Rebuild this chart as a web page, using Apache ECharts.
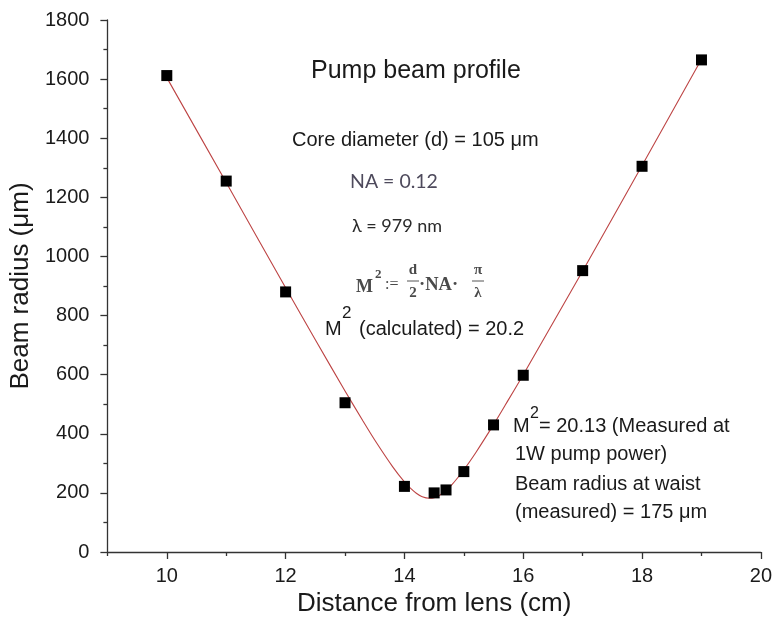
<!DOCTYPE html>
<html>
<head>
<meta charset="utf-8">
<script src="https://cdn.jsdelivr.net/npm/echarts@6/dist/echarts.min.js"></script>
<style>html,body{margin:0;padding:0;background:#fff;}#c{width:775px;height:622px;}</style>
</head>
<body>
<div id="c"></div>
<script>
// measured data points
const distance = [10, 11, 12, 13, 14, 14.5, 14.7, 15, 15.5, 16, 17, 18, 19];
const radius = [1612, 1255, 880, 505, 222, 200, 210, 272, 430, 598, 952, 1305, 1665];
// fitted curve
const fitDistance = [10, 11, 12, 12.5, 13, 13.3, 13.5, 13.8, 14, 14.1, 14.2, 14.3, 14.42, 14.5, 14.6, 14.7, 14.8, 14.9, 15, 15.2, 15.5, 15.7, 16, 17, 18, 19];
const fitRadius = [1605, 1250, 894, 718, 545, 444, 379, 289, 237, 216, 199, 187, 182, 184, 193, 208, 228, 252, 278, 336, 431, 498, 600, 951, 1308, 1667];
// tick labels
const xMajorTicks = [10, 12, 14, 16, 18, 20];
const xMinorTicks = [9, 11, 13, 15, 17, 19];

const FONT = '"Liberation Sans", Arial, sans-serif';
const SERIF = '"Liberation Serif", "DejaVu Serif", serif';
const CAL = 'Lato, "Open Sans", sans-serif';
const axisColor = '#333';

const chart = echarts.init(document.getElementById('c'), null, {renderer: 'canvas'});
const fitData = fitDistance.map((x, i) => [x, fitRadius[i]]);
const ptData = distance.map((x, i) => [x, radius[i]]);

function txt(x, y, text, size, opts) {
  opts = opts || {};
  return {
    type: 'text', z: 100,
    style: {
      x: x, y: y, text: text,
      font: (opts.weight || 'normal') + ' ' + size + 'px ' + (opts.family || FONT),
      fill: opts.fill || '#1a1a1a',
      align: opts.align || 'left',
      verticalAlign: 'middle'
    }
  };
}
function hline(x1, x2, y) {
  return {type: 'line', z: 100, shape: {x1: x1, y1: y, x2: x2, y2: y}, style: {stroke: '#555', lineWidth: 1}};
}
const FC = '#4a4a4a';

const option = {
  animation: false,
  backgroundColor: '#fff',
  grid: {left: 105, right: 13, top: 20, bottom: 70, containLabel: false},
  xAxis: [
    {
      type: 'value', min: 9, max: 20, interval: 1, position: 'bottom',
      name: 'Distance from lens (cm)', nameLocation: 'middle', nameGap: 37,
      nameTextStyle: {fontFamily: FONT, fontSize: 26, color: '#1a1a1a'},
      axisLine: {show: true, lineStyle: {color: axisColor, width: 1.3}},
      axisTick: {show: true, length: 7, customValues: xMajorTicks, lineStyle: {color: axisColor, width: 1.3}},
      axisLabel: {show: true, customValues: xMajorTicks, margin: 14, fontFamily: FONT, fontSize: 20, color: '#1a1a1a'},
      splitLine: {show: false}
    },
    {
      type: 'value', min: 9, max: 20, interval: 1, position: 'bottom',
      axisLine: {show: false},
      axisTick: {show: true, length: 4, customValues: xMinorTicks, lineStyle: {color: axisColor, width: 1.3}},
      axisLabel: {show: false},
      splitLine: {show: false}
    }
  ],
  yAxis: {
    type: 'value', min: 0, max: 1800, interval: 200,
    name: 'Beam radius (\u03bcm)', nameLocation: 'middle', nameGap: 65,
    nameTextStyle: {fontFamily: FONT, fontSize: 26, color: '#1a1a1a'},
    axisLine: {show: true, lineStyle: {color: axisColor, width: 1.3}},
    axisTick: {show: true, length: 7, lineStyle: {color: axisColor, width: 1.3}},
    minorTick: {show: true, splitNumber: 2, length: 4, lineStyle: {color: axisColor, width: 1.3}},
    axisLabel: {margin: 18, fontFamily: FONT, fontSize: 20, color: '#1a1a1a', formatter: v => String(v)},
    splitLine: {show: false},
    minorSplitLine: {show: false}
  },
  series: [
    {
      type: 'line', data: fitData, xAxisIndex: 0, smooth: 0.3, showSymbol: false, symbol: 'none',
      lineStyle: {color: '#bd4444', width: 1.1}, z: 2, silent: true
    },
    {
      type: 'scatter', data: ptData, xAxisIndex: 0, symbol: 'rect', symbolSize: 11,
      itemStyle: {color: '#000', opacity: 1}, z: 3, silent: true
    }
  ],
  graphic: [
    txt(311, 71, 'Pump beam profile', 25),
    txt(292, 140, 'Core diameter (d) = 105 \u03bcm', 20),
    txt(350, 182, 'NA = 0.12', 19.5, {family: CAL, fill: '#4e4a5c'}),
    txt(352, 226, '\u03bb = 979 nm', 18, {family: CAL, fill: '#2a2a2a'}),
    // formula M^2 := d/2 . NA . pi/lambda
    txt(356, 287, 'M', 18, {family: SERIF, fill: FC, weight: 'bold'}),
    txt(375, 275, '2', 13, {family: SERIF, fill: FC, weight: 'bold'}),
    txt(385, 285, ':=', 16, {family: SERIF, fill: FC}),
    txt(413, 270, 'd', 15, {family: SERIF, fill: FC, weight: 'bold', align: 'center'}),
    hline(407, 419, 281),
    txt(413, 293, '2', 15, {family: SERIF, fill: FC, weight: 'bold', align: 'center'}),
    txt(419, 285, '\u00b7NA\u00b7', 18.5, {family: SERIF, fill: FC, weight: 'bold'}),
    txt(478, 270, '\u03c0', 15, {family: SERIF, fill: FC, weight: 'bold', align: 'center'}),
    hline(472, 484, 281),
    txt(478, 293, '\u03bb', 15, {family: SERIF, fill: FC, weight: 'bold', align: 'center'}),
    // M^2 calculated
    txt(325, 329, 'M', 20),
    txt(342, 313, '2', 17),
    txt(359, 329, '(calculated) = 20.2', 20),
    // measured annotation
    txt(513, 426, 'M', 20),
    txt(530, 414, '2', 16),
    txt(539, 426, '= 20.13 (Measured at', 20),
    txt(515, 454, '1W pump power)', 20),
    txt(515, 484, 'Beam radius at waist', 20),
    txt(515, 512, '(measured) = 175 \u03bcm', 20)
  ]
};
chart.setOption(option);
</script>
</body>
</html>
